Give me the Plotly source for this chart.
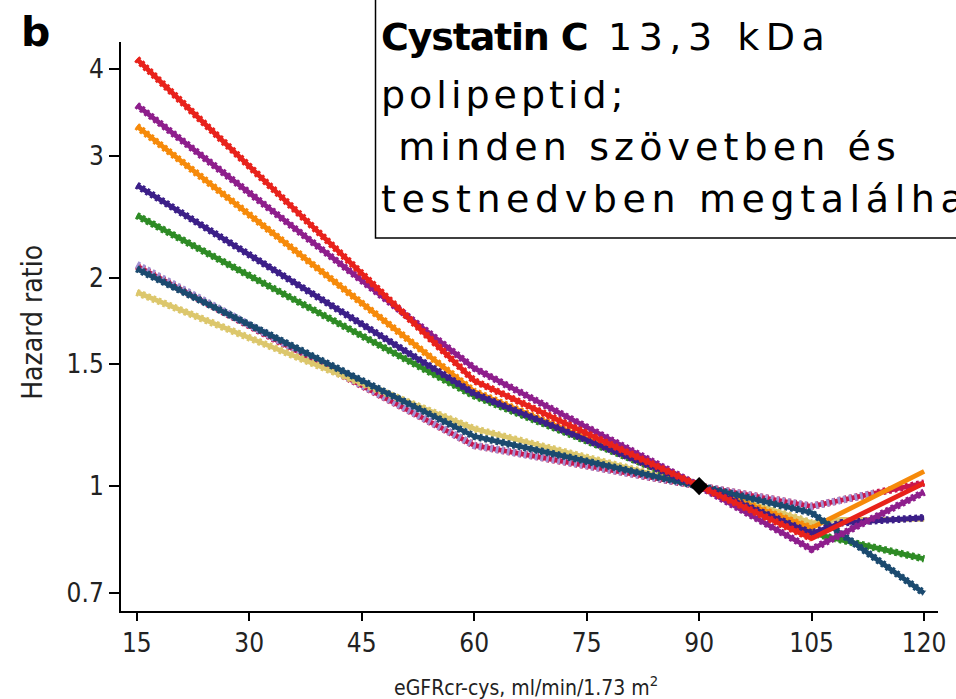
import plotly.graph_objects as go

# eGFRcr-cys knots (ml/min/1.73 m2) and hazard ratios per cohort curve
x_main = [15, 60, 90, 105, 120]
x_kink = [15, 60, 90, 105, 109, 120]
x_short = [15, 60, 90, 105, 113.5]
x_long = [15, 60, 90, 105, 113.5, 120]

red_hr = [4.14, 1.42, 1.00, 0.84, 1.01]
purple_hr = [3.55, 1.48, 1.00, 0.81, 0.98]
orange_hr = [3.31, 1.37, 1.00, 0.87, 1.05]
indigo_hr = [2.72, 1.36, 1.00, 0.855, 0.885, 0.90]
green_hr = [2.46, 1.35, 1.00, 0.855, 0.785]
lavender_hr = [2.09, 1.145, 1.00, 0.935, 0.977]
crimson_hr = [2.08, 1.145, 1.00, 0.935, 0.977, 1.01]
khaki_hr = [1.905, 1.21, 1.00, 0.885, 0.895, 0.895]
navy_hr = [2.06, 1.18, 1.00, 0.915, 0.70]

ref_x = [90]
ref_hr = [1.0]

x_ticks = [15, 30, 45, 60, 75, 90, 105, 120]
y_ticks = [0.7, 1, 1.5, 2, 3, 4]
y_tick_text = ["0.7", "1", "1.5", "2", "3", "4"]

# (x, hr, colour, solid core?, beaded up to x)
curves = [
    (x_long, crimson_hr, "#C8174F", True, 120),
    (x_short, lavender_hr, "#A191D2", False, 120),
    (x_kink, khaki_hr, "#DCC76C", True, 106),
    (x_main, green_hr, "#2E8B25", True, 120),
    (x_main, orange_hr, "#F68A0A", True, 106),
    (x_main, navy_hr, "#1B4A6F", True, 120),
    (x_kink, indigo_hr, "#3C1F88", True, 120),
    (x_main, purple_hr, "#8E1E8C", True, 120),
    (x_main, red_hr, "#E8221B", True, 105),
]

fig = go.Figure()
for xs, ys, col, core, bead_end in curves:
    if core:
        fig.add_trace(go.Scatter(x=xs, y=ys, mode="lines",
                                 line=dict(color=col, width=4.8),
                                 hoverinfo="skip", showlegend=False))
    bx = [v for v in xs if v <= bead_end]
    by = ys[:len(bx)]
    fig.add_trace(go.Scatter(x=bx, y=by, mode="lines",
                             line=dict(color=col, width=7.4, dash="2.8px,2.9px"),
                             hoverinfo="skip", showlegend=False))

fig.add_trace(go.Scatter(x=ref_x, y=ref_hr, mode="markers",
                         marker=dict(symbol="diamond", size=14, color="black"),
                         hoverinfo="skip", showlegend=False))

W, H = 956, 699
ML, MR, MT, MB = 121, 10, 42, 88


def px_x(px):
    return (px - ML) / (W - ML - MR)


def px_y(py):
    return (H - MB - py) / (H - MT - MB)


cond = "DejaVu Sans Condensed, DejaVu Sans, sans-serif"
tick_font = dict(family=cond, size=26, color="#222")

fig.update_xaxes(range=[12.9, 121.85], tickvals=x_ticks, ticks="outside", ticklen=8,
                 tickwidth=2, tickcolor="black", showline=True, linecolor="black",
                 linewidth=2, showgrid=False, zeroline=False, tickfont=tick_font)
fig.update_yaxes(type="log", range=[-0.1805, 0.6415], tickvals=y_ticks, ticktext=y_tick_text,
                 ticks="outside", ticklen=10, tickwidth=2, tickcolor="black",
                 showline=True, linecolor="black", linewidth=2, showgrid=False,
                 zeroline=False, tickfont=tick_font)

box_font = "DejaVu Sans, sans-serif"


def spaced(txt, sp):
    return f'<span style="letter-spacing:{sp}px">{txt}</span>'


# (text, left px, centre px, letter spacing)
box_lines = [
    ("<b>Cystatin C</b>", 382, 37, -1.2),
    ("13,3 kDa", 611, 37, 6.5),
    ("polipeptid;", 382, 95, 4.0),
    ("\u00a0minden szövetben és", 382, 147, 5.1),
    ("testnedvben megtalálható", 382, 199, 5.6),
]

annotations = [
    dict(text="<b>b</b>", x=px_x(35), y=px_y(32), xref="paper", yref="paper",
         xanchor="center", yanchor="middle", showarrow=False,
         font=dict(family="DejaVu Sans, sans-serif", size=41, color="black")),
    dict(text="Hazard ratio", textangle=-90, x=px_x(31), y=px_y(322), xref="paper", yref="paper",
         xanchor="center", yanchor="middle", showarrow=False,
         font=dict(family=cond, size=28, color="#222")),
    dict(text="eGFRcr-cys, ml/min/1.73 m<sup>2</sup>", x=px_x(530), y=px_y(686),
         xref="paper", yref="paper", xanchor="center", yanchor="middle", showarrow=False,
         font=dict(family=cond, size=21, color="#222")),
]
for txt, left, yc, sp in box_lines:
    annotations.append(dict(text=spaced(txt, sp), x=px_x(left), y=px_y(yc),
                            xref="paper", yref="paper", xanchor="left", yanchor="middle",
                            showarrow=False, align="left",
                            font=dict(family=box_font, size=38, color="black")))

fig.update_layout(
    width=W, height=H,
    margin=dict(l=ML, r=MR, t=MT, b=MB),
    paper_bgcolor="white", plot_bgcolor="white",
    shapes=[dict(type="rect", xref="paper", yref="paper",
                 x0=px_x(378), x1=px_x(1010), y0=px_y(238), y1=px_y(-10),
                 line=dict(color="black", width=1.5), fillcolor="white", layer="above")],
    annotations=annotations,
)

fig.write_html("out.html")
